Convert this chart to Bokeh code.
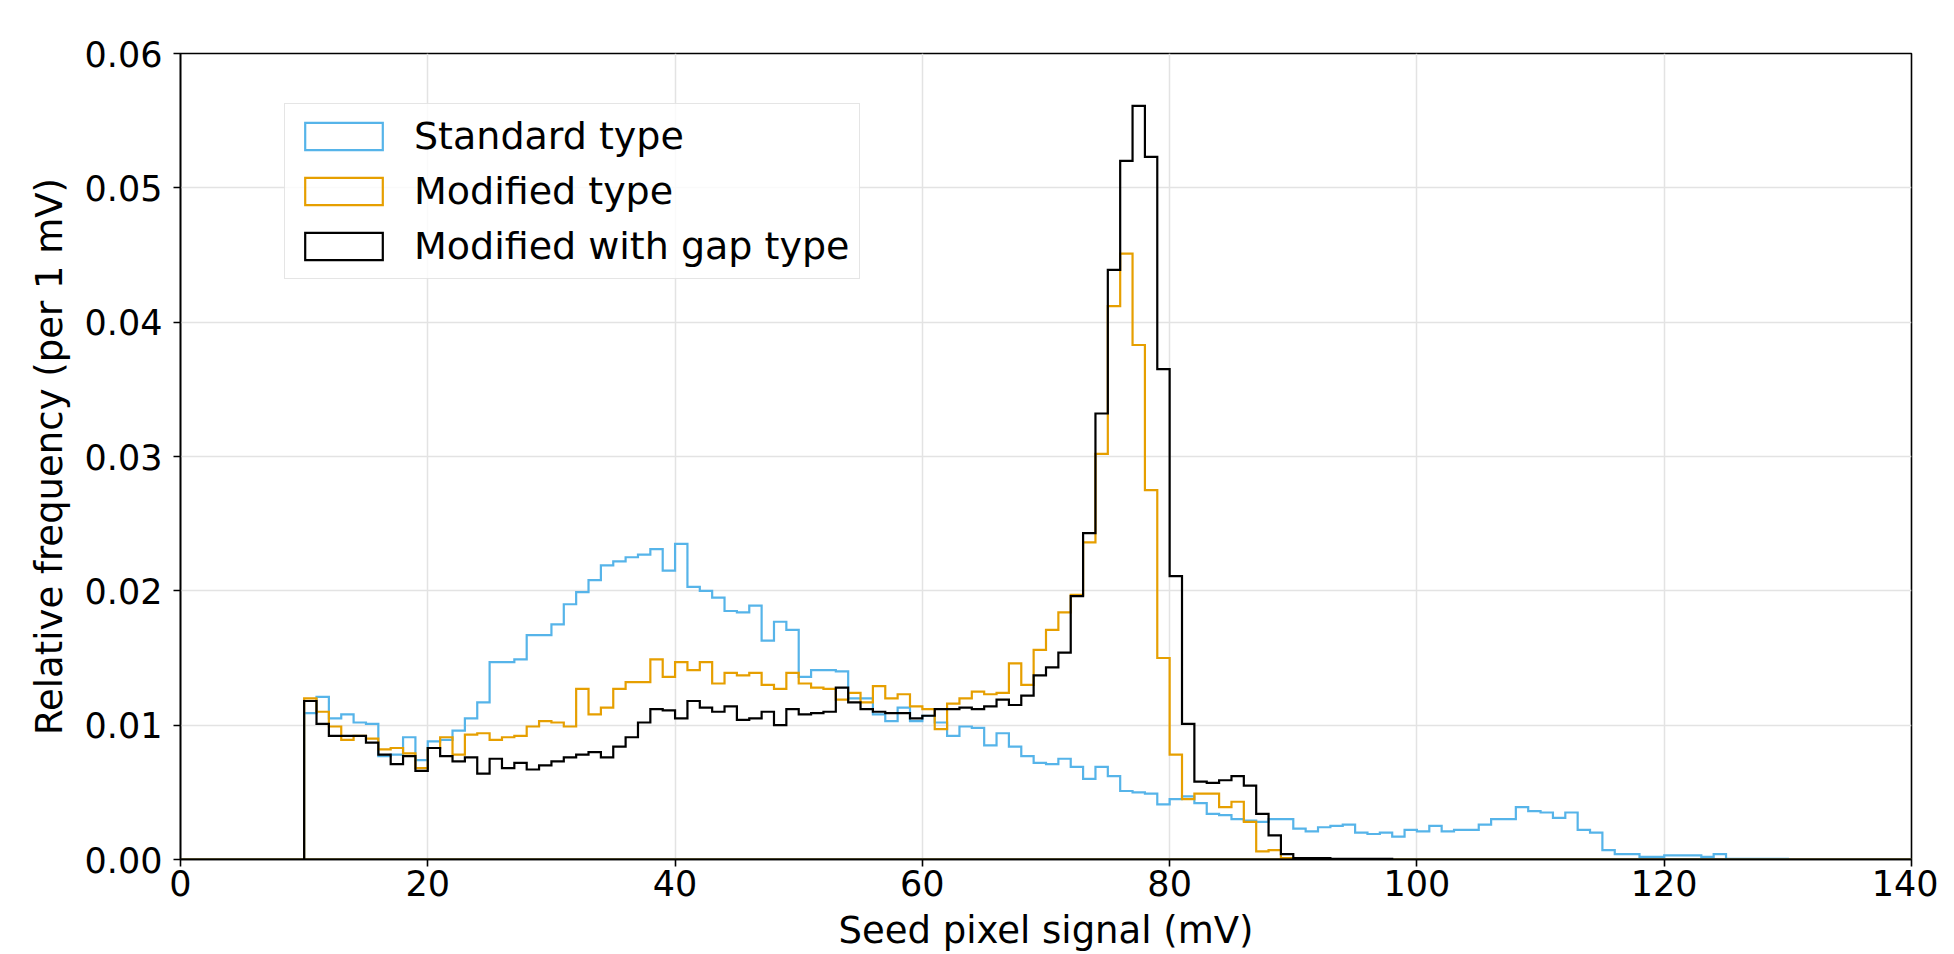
import numpy as np
from bokeh.plotting import figure
from bokeh.models import (FixedTicker, PrintfTickFormatter, Legend, LegendItem,
                          Range1d)
from bokeh.embed import file_html
from bokeh.resources import INLINE

# ---------------- data ----------------
hist_range_mv = (0, 140)
first_bin_mv = 10
bin_width_mv = 1

# relative frequency per 1 mV bin, bins starting at 10 mV
standard_type = [
    0.0109, 0.0121, 0.0105, 0.0108, 0.0102, 0.0101, 0.0077, 0.0078, 0.0091, 0.0074,  # 10-19
    0.0088, 0.0089, 0.0096, 0.0105, 0.0117, 0.0147, 0.0147, 0.0149, 0.0167, 0.0167,  # 20-29
    0.0175, 0.0190, 0.0199, 0.0208, 0.0219, 0.0222, 0.0225, 0.0227, 0.0231, 0.0215,  # 30-39
    0.0235, 0.0203, 0.0200, 0.0195, 0.0185, 0.0184, 0.0189, 0.0163, 0.0177, 0.0171,  # 40-49
    0.0136, 0.0141, 0.0141, 0.0140, 0.0120, 0.0120, 0.0108, 0.0103, 0.0113, 0.0103,  # 50-59
    0.0107, 0.0102, 0.0092, 0.0099, 0.0098, 0.0085, 0.0094, 0.0084, 0.0077, 0.0072,  # 60-69
    0.0071, 0.0075, 0.0069, 0.0060, 0.0069, 0.0062, 0.0051, 0.0050, 0.0049, 0.0041,  # 70-79
    0.0045, 0.0047, 0.0042, 0.0034, 0.0033, 0.0030, 0.0029, 0.0028, 0.0030, 0.0030,  # 80-89
    0.0023, 0.0021, 0.0024, 0.0025, 0.0026, 0.0020, 0.0019, 0.0020, 0.0017, 0.0022,  # 90-99
    0.0021, 0.0025, 0.0021, 0.0022, 0.0022, 0.0026, 0.0030, 0.0030, 0.0039, 0.0036,  # 100-109
    0.0035, 0.0031, 0.0035, 0.0022, 0.0020, 0.0007, 0.0004, 0.0004, 0.0002, 0.0002,  # 110-119
    0.0003, 0.0003, 0.0003, 0.0002, 0.0004, 0.00005, 0.00005, 0.00005, 0.00005, 0.00005,  # 120-129
]

modified_type = [
    0.0120, 0.0110, 0.0099, 0.0089, 0.0092, 0.0090, 0.0082, 0.0083, 0.0079, 0.0068,  # 10-19
    0.0083, 0.0091, 0.0078, 0.0093, 0.0094, 0.0089, 0.0091, 0.0092, 0.0099, 0.0103,  # 20-29
    0.0102, 0.0099, 0.0127, 0.0108, 0.0113, 0.0127, 0.0132, 0.0132, 0.0149, 0.0136,  # 30-39
    0.0147, 0.0141, 0.0147, 0.0131, 0.0139, 0.0137, 0.0139, 0.0130, 0.0127, 0.0139,  # 40-49
    0.0131, 0.0128, 0.0127, 0.0119, 0.0124, 0.0117, 0.0129, 0.0120, 0.0123, 0.0114,  # 50-59
    0.0112, 0.0097, 0.0116, 0.0120, 0.0125, 0.0123, 0.0124, 0.0146, 0.0130, 0.0156,  # 60-69
    0.0171, 0.0184, 0.0197, 0.0236, 0.0302, 0.0412, 0.0451, 0.0383, 0.0275, 0.0150,  # 70-79
    0.0078, 0.0045, 0.0049, 0.0049, 0.0039, 0.0043, 0.0028, 0.0006, 0.0007, 0.0001,  # 80-89
]

modified_with_gap_type = [
    0.0118, 0.0101, 0.0092, 0.0092, 0.0092, 0.0087, 0.0078, 0.0071, 0.0077, 0.0066,  # 10-19
    0.0083, 0.0077, 0.0073, 0.0076, 0.0064, 0.0075, 0.0068, 0.0072, 0.0067, 0.0070,  # 20-29
    0.0073, 0.0076, 0.0078, 0.0080, 0.0076, 0.0084, 0.0091, 0.0102, 0.0112, 0.0111,  # 30-39
    0.0105, 0.0118, 0.0113, 0.0110, 0.0114, 0.0104, 0.0105, 0.0110, 0.0100, 0.0112,  # 40-49
    0.0108, 0.0109, 0.0110, 0.0128, 0.0117, 0.0112, 0.0110, 0.0109, 0.0109, 0.0105,  # 50-59
    0.0107, 0.0112, 0.0112, 0.0113, 0.0112, 0.0114, 0.0119, 0.0115, 0.0122, 0.0137,  # 60-69
    0.0143, 0.0154, 0.0196, 0.0243, 0.0332, 0.0439, 0.0520, 0.0561, 0.0523, 0.0365,  # 70-79
    0.0211, 0.0101, 0.0058, 0.0057, 0.0059, 0.0062, 0.0055, 0.0034, 0.0018, 0.0004,  # 80-89
    0.0001, 0.0001, 0.0001, 0.00005, 0.00005, 0.00005, 0.00005, 0.00005,            # 90-97
]

series_labels = ["Standard type", "Modified type", "Modified with gap type"]
series_values = [standard_type, modified_type, modified_with_gap_type]
series_colors = ["#56B4E9", "#E69F00", "#000000"]

x_ticks = [0, 20, 40, 60, 80, 100, 120, 140]
y_ticks = [0.00, 0.01, 0.02, 0.03, 0.04, 0.05, 0.06]

x_label = "Seed pixel signal (mV)"
y_label = "Relative frequency (per 1 mV)"

FONT = "DejaVu Sans"


def step_outline(vals):
    """Outline polygon of a step histogram (like matplotlib histtype='step')."""
    vals = np.asarray(vals, dtype=float)
    edges = first_bin_mv + bin_width_mv * np.arange(len(vals) + 1)
    xs = np.concatenate([[hist_range_mv[0], edges[0]],
                         np.repeat(edges, 2)[1:-1],
                         [edges[-1], hist_range_mv[1]]])
    ys = np.concatenate([[0.0, 0.0], np.repeat(vals, 2), [0.0, 0.0]])
    return xs, ys


p = figure(width=1938, height=954, output_backend="svg", toolbar_location=None,
           x_range=Range1d(0, 140), y_range=Range1d(0, 0.06),
           min_border_left=180, min_border_right=27,
           min_border_top=53, min_border_bottom=94)

p.background_fill_color = "white"
p.border_fill_color = "white"
p.outline_line_color = "black"
p.outline_line_width = 1.6

# grid
p.xgrid.ticker = FixedTicker(ticks=x_ticks)
p.ygrid.ticker = FixedTicker(ticks=y_ticks)
p.grid.grid_line_color = "#e3e3e3"
p.grid.grid_line_width = 1.5

# axes
p.xaxis.ticker = FixedTicker(ticks=x_ticks)
p.yaxis.ticker = FixedTicker(ticks=y_ticks)
p.yaxis.formatter = PrintfTickFormatter(format="%.2f")
for ax in (p.xaxis, p.yaxis):
    ax.axis_line_color = "black"
    ax.axis_line_width = 1.6
    ax.major_tick_line_color = "black"
    ax.major_tick_line_width = 1.6
    ax.major_tick_in = 0
    ax.major_tick_out = 7
    ax.minor_tick_line_color = None
    ax.major_label_text_font = FONT
    ax.major_label_text_font_size = "35px"
    ax.major_label_text_color = "black"
    ax.axis_label_text_font = FONT
    ax.axis_label_text_font_size = "37px"
    ax.axis_label_text_font_style = "normal"
    ax.axis_label_text_color = "black"
p.xaxis.axis_label = x_label
p.yaxis.axis_label = y_label
p.xaxis.major_label_standoff = 3
p.yaxis.major_label_standoff = 11
p.xaxis.axis_label_standoff = 10
p.yaxis.axis_label_standoff = 11

# histograms (step outlines, unfilled)
items = []
for label, vals, color in zip(series_labels, series_values, series_colors):
    xs, ys = step_outline(vals)
    r = p.patch(xs, ys, fill_color="white", fill_alpha=0,
                line_color=color, line_width=2.2, line_join="miter")
    items.append(LegendItem(label=label, renderers=[r]))

legend = Legend(items=items, location=(104, 580))
legend.label_text_font = FONT
legend.label_text_font_size = "38px"
legend.label_text_color = "black"
legend.glyph_width = 97
legend.glyph_height = 34
legend.label_standoff = 22
legend.padding = 10
legend.spacing = 11
legend.margin = 0
legend.border_line_color = "#cccccc"
legend.border_line_width = 1.5
legend.background_fill_color = "white"
legend.background_fill_alpha = 0.8
p.add_layout(legend)

open("out.html", "w").write(file_html(p, INLINE))
